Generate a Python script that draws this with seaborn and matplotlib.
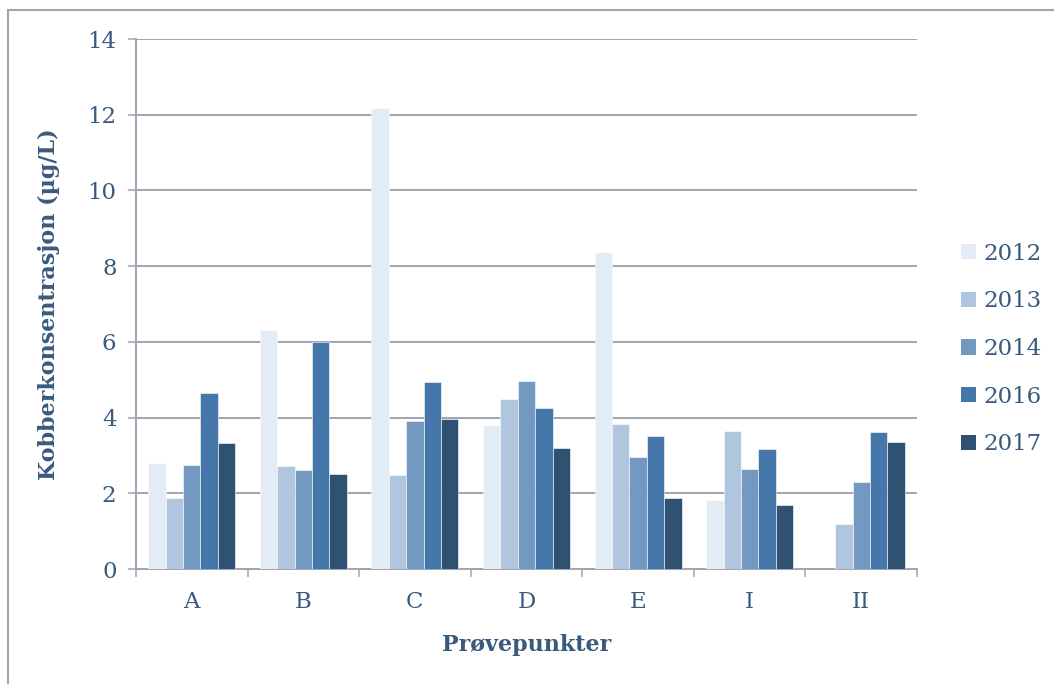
import numpy as np
import pandas as pd
import matplotlib
matplotlib.use("Agg")
import matplotlib.pyplot as plt
import seaborn as sns
from matplotlib.lines import Line2D
from matplotlib.ticker import MultipleLocator, FixedLocator

categories = ["A", "B", "C", "D", "E", "I", "II"]
years = ["2012", "2013", "2014", "2016", "2017"]
v2012 = [2.80, 6.31, 12.18, 3.80, 8.37, 1.82, np.nan]
v2013 = [1.88, 2.72, 2.48, 4.49, 3.83, 3.65, 1.19]
v2014 = [2.75, 2.61, 3.91, 4.96, 2.96, 2.64, 2.30]
v2016 = [4.65, 6.00, 4.94, 4.24, 3.51, 3.18, 3.62]
v2017 = [3.33, 2.50, 3.96, 3.20, 1.88, 1.69, 3.36]
colors = ["#E3EBF4", "#B0C6DF", "#7499C0", "#4577AA", "#2F5273"]

series = [v2012, v2013, v2014, v2016, v2017]
rows = []
for y, vals in zip(years, series):
    for c, v in zip(categories, vals):
        rows.append({"Prøvepunkt": c, "År": y, "Verdi": v})
df = pd.DataFrame(rows)

sns.set_theme(style="white")
plt.rcParams["font.family"] = ["DejaVu Serif"]
text_color = "#3A5A7C"
grid_color = "#9CA5B0"

fig = plt.figure(figsize=(10.54, 6.84), dpi=100)
ax = fig.add_axes([136/1054, 1 - 569/684, (917-136)/1054, (569-39)/684])

sns.barplot(data=df, x="Prøvepunkt", y="Verdi", hue="År", order=categories,
            hue_order=years, palette=colors, width=0.78, saturation=1,
            edgecolor="white", linewidth=0.4, ax=ax, legend=True, zorder=3)

ax.set_ylim(0, 14)
ax.set_xlim(-0.5, 6.5)
ax.yaxis.set_major_locator(MultipleLocator(2))
ax.yaxis.grid(True, color=grid_color, linewidth=1.4, zorder=0)
ax.set_axisbelow(True)
for s in ["top", "right"]:
    ax.spines[s].set_visible(False)
for s in ["left", "bottom"]:
    ax.spines[s].set_color(grid_color)
    ax.spines[s].set_linewidth(1.4)

ax.tick_params(axis="y", which="major", direction="out", length=6, width=1.1,
               color=grid_color, labelsize=16.5, labelcolor=text_color, pad=8, left=True)
ax.xaxis.set_minor_locator(FixedLocator(np.arange(-0.5, 7.0, 1.0)))
ax.tick_params(axis="x", which="minor", direction="out", length=6, width=1.1,
               color=grid_color, bottom=True)
ax.tick_params(axis="x", which="major", length=0, labelsize=16.5,
               labelcolor=text_color, pad=16)

ax.set_xlabel("Prøvepunkter", fontsize=16, fontweight="bold", color=text_color, labelpad=15)
ax.set_ylabel("Kobberkonsentrasjon (µg/L)", fontsize=16, fontweight="bold",
              color=text_color, labelpad=20)

handles, labels = ax.get_legend_handles_labels()
ax.legend(handles, labels, loc="center left", bbox_to_anchor=(940/1054, 1 - 349/684),
          bbox_transform=fig.transFigure, frameon=False, fontsize=16.5,
          labelcolor=text_color, handlelength=0.65, handleheight=0.65,
          handletextpad=0.35, labelspacing=1.12)
for h in ax.get_legend().legend_handles:
    h.set_edgecolor("none")

# outer chart frame (top and left edges visible)
fig.add_artist(Line2D([8/1054, 1], [1 - 10/684, 1 - 10/684], transform=fig.transFigure,
                      color=grid_color, linewidth=1.5))
fig.add_artist(Line2D([8/1054, 8/1054], [0, 1 - 10/684], transform=fig.transFigure,
                      color=grid_color, linewidth=1.5))

fig.savefig("out.png", dpi=100)
